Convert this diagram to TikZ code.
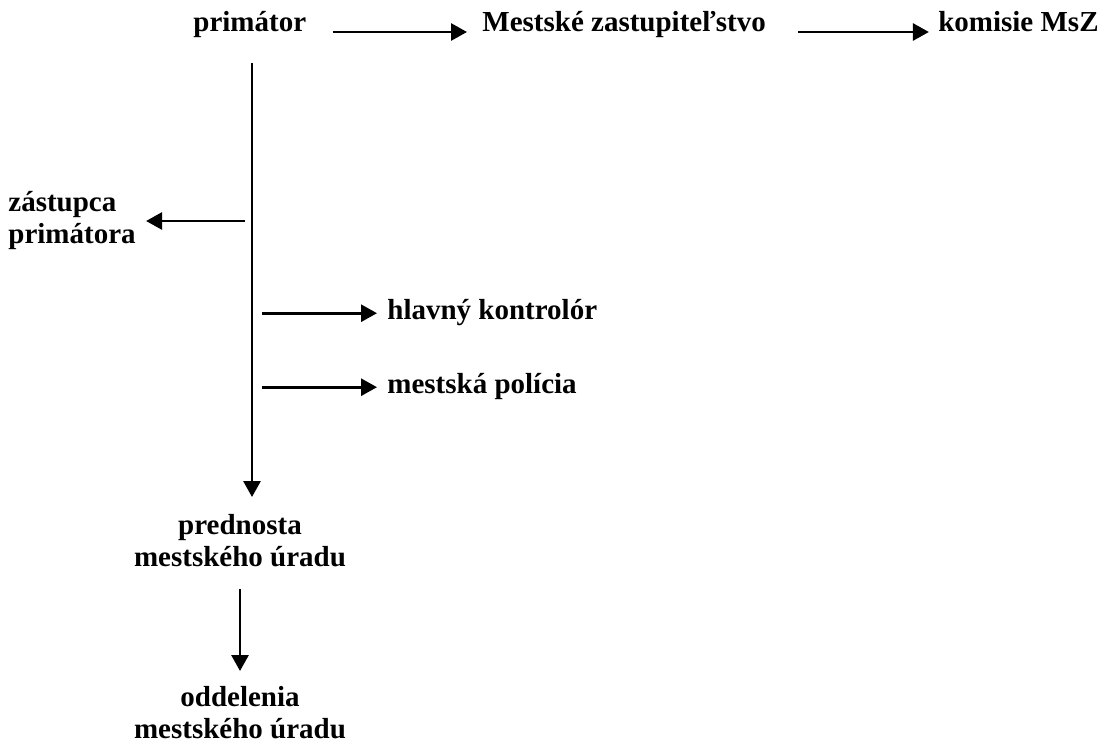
\documentclass[tikz,border=0pt]{standalone}
\usepackage{fontspec}
\setmainfont{Liberation Serif}
\usetikzlibrary{arrows.meta}

\begin{document}
\begin{tikzpicture}[x=0.5pt, y=-0.5pt,
		txt/.style={inner sep=0pt, font=\fontsize{14.5}{16}\selectfont\bfseries, text height=9.8pt, text depth=4pt},
		blk/.style={inner sep=0pt, font=\fontsize{14.5}{16}\selectfont\bfseries},
		arr/.style={line width=1.4pt, -{Triangle[length=8pt, width=8.5pt]}}]
		
		\useasboundingbox (0,0) rectangle (1101,749);
		
		\node (prim) at (193,32) [txt, anchor=base west] {primátor};
		\node (mz) at (482,32) [txt, anchor=base west] {Mestské zastupiteľstvo};
		\node (kom) at (1099,32) [txt, anchor=base east] {komisie MsZ};
		\coordinate (trunk) at (252,63);
		\node (zast) at (8,221) [blk, anchor=west, align=left] {zástupca\\primátora};
		\node (hk) at (387,319) [txt, anchor=base west] {hlavný kontrolór};
		\node (mp) at (387,393) [txt, anchor=base west] {mestská polícia};
		\node (pred) at (240,514) [blk, anchor=north, align=center] {prednosta\\mestského úradu};
		\node (odd) at (240,686) [blk, anchor=north, align=center] {oddelenia\\mestského úradu};
		
		\draw[arr, shorten <=13pt, shorten >=7.5pt] (prim.base east) -- (mz.base west);
		\draw[arr, shorten <=16pt, shorten >=4.5pt] (mz.base east) -- (kom.base west);
		\draw[arr, shorten >=8.5pt] (trunk) -- (pred.north -| trunk);
		\draw[arr, shorten <=3.5pt, shorten >=5pt] (zast.east -| trunk) -- (zast.east);
		\draw[arr, shorten <=5pt, shorten >=5pt] (hk.west -| trunk) -- (hk.west);
		\draw[arr, shorten <=5pt, shorten >=5pt] (mp.west -| trunk) -- (mp.west);
		\draw[arr, shorten <=11pt, shorten >=7.5pt] (pred.south) -- (odd.north);
	\end{tikzpicture}
\end{document}
